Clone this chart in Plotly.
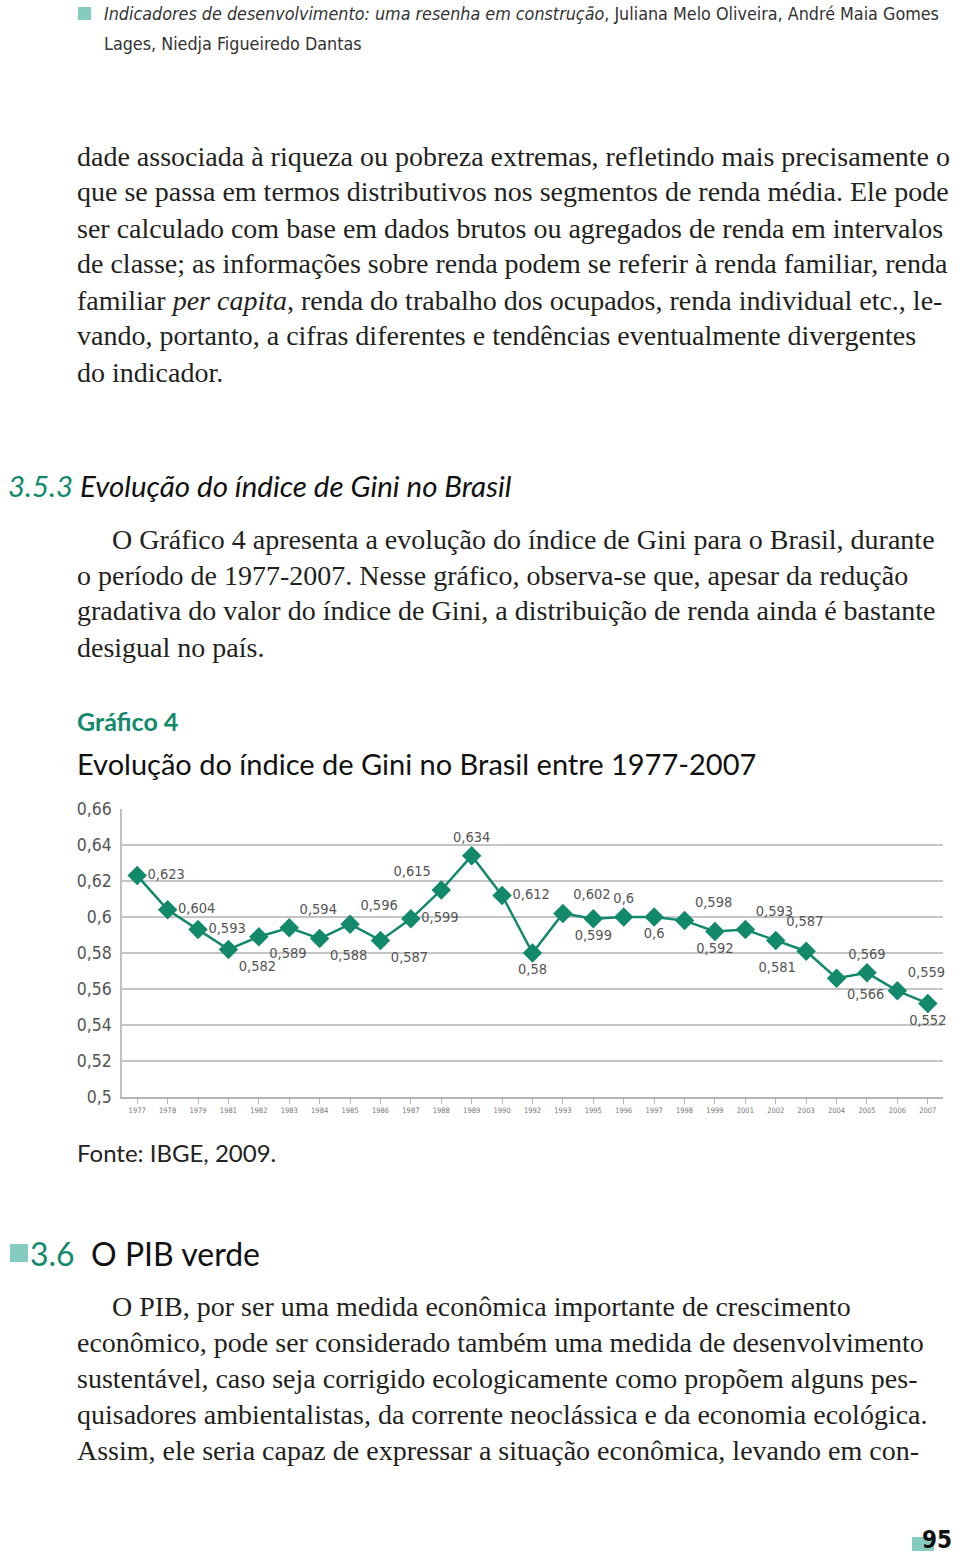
import plotly.graph_objects as go

W, H = 960, 1558

years = ["1977", "1978", "1979", "1981", "1982", "1983", "1984", "1985", "1986",
         "1987", "1988", "1989", "1990", "1992", "1993", "1995", "1996", "1997",
         "1998", "1999", "2001", "2002", "2003", "2004", "2005", "2006", "2007"]
gini = [0.623, 0.604, 0.593, 0.582, 0.589, 0.594, 0.588, 0.596, 0.587,
        0.599, 0.615, 0.634, 0.612, 0.58, 0.602, 0.599, 0.6, 0.6,
        0.598, 0.592, 0.593, 0.587, 0.581, 0.566, 0.569, 0.559, 0.552]
y_ticks = [0.5, 0.52, 0.54, 0.56, 0.58, 0.6, 0.62, 0.64, 0.66]
y_tick_labels = ["0,5", "0,52", "0,54", "0,56", "0,58", "0,6", "0,62", "0,64", "0,66"]

label_pos = ["middle right", "middle right", "middle right", "bottom right", "bottom right",
             "top right", "bottom right", "top right", "bottom right", "middle right",
             "top left", "top center", "middle right", "bottom center", "top right",
             "bottom center", "top center", "bottom center", "top right", "bottom center",
             "top right", "top right", "bottom left", "bottom right", "top center",
             "top right", "bottom center"]

labels = [("%g" % v).replace(".", ",") for v in gini]

TEAL = "#13896c"
LIGHT = "#86cbbf"

def px(x):
    return x / W

def py(y):
    return 1 - y / H

fig = go.Figure()
fig.add_trace(go.Scatter(
    x=years, y=gini, mode="lines+markers+text",
    line=dict(color=TEAL, width=2.5),
    marker=dict(symbol="diamond", size=15, color=TEAL),
    text=labels, textposition=label_pos,
    textfont=dict(family="DejaVu Sans Condensed, DejaVu Sans", size=14.5, color="#555555"),
    cliponaxis=False, showlegend=False,
))

fig.update_layout(
    width=W, height=H, margin=dict(l=0, r=0, t=0, b=0, autoexpand=False),
    paper_bgcolor="white", plot_bgcolor="white",
    xaxis=dict(domain=[px(122), px(943)], type="category", range=[-0.5, len(years) - 0.5],
               showline=True, linecolor="#b5b5b5", linewidth=1.5,
               ticks="outside", ticklen=5, tickcolor="#b5b5b5",
               tickfont=dict(family="DejaVu Sans Condensed, DejaVu Sans", size=7.5, color="#777777"),
               tickangle=0, showgrid=False, automargin=False),
    yaxis=dict(domain=[py(1097), py(809)], range=[0.5, 0.66],
               tickvals=y_ticks, ticktext=y_tick_labels,
               showline=True, linecolor="#c0c0c0", linewidth=1.5,
               gridcolor="#c4c4c4", gridwidth=2, zeroline=False, automargin=False,
               tickfont=dict(family="DejaVu Sans Condensed, DejaVu Sans", size=17.5, color="#555555"),
               ticks="", ticklabelstandoff=5),
)

ann = []
def txt(x, y, s, size, family, color="#231f20", anchor="left"):
    ann.append(dict(x=px(x), y=py(y), xref="paper", yref="paper", text=s, showarrow=False,
                    xanchor=anchor, yanchor="middle",
                    font=dict(family=family, size=size, color=color)))

SERIF = "Liberation Serif, DejaVu Serif, serif"
SANS = "Lato, Open Sans, sans-serif"
NARROW = "Liberation Sans Narrow, DejaVu Sans Condensed, sans-serif"

# header
txt(102, 14, "<i>Indicadores de desenvolvimento: uma resenha em construção</i>, Juliana Melo Oliveira, André Maia Gomes",
    17.8, NARROW, "#333333")
txt(102, 43, "Lages, Niedja Figueiredo Dantas", 17.8, NARROW, "#333333")

body1 = [
    "dade associada à riqueza ou pobreza extremas, refletindo mais precisamente o",
    "que se passa em termos distributivos nos segmentos de renda média. Ele pode",
    "ser calculado com base em dados brutos ou agregados de renda em intervalos",
    "de classe; as informações sobre renda podem se referir à renda familiar, renda",
    "familiar <i>per capita</i>, renda do trabalho dos ocupados, renda individual etc., le-",
    "vando, portanto, a cifras diferentes e tendências eventualmente divergentes",
    "do indicador.",
]
for i, line in enumerate(body1):
    txt(75, 156 + 36 * i, line, 28, SERIF)

txt(6, 485, "<i><span style='color:%s'>3.5.3</span> Evolução do índice de Gini no Brasil</i>" % TEAL, 29.5, SANS, "#111111")

body2 = [
    (110, "O Gráfico 4 apresenta a evolução do índice de Gini para o Brasil, durante"),
    (75, "o período de 1977-2007. Nesse gráfico, observa-se que, apesar da redução"),
    (75, "gradativa do valor do índice de Gini, a distribuição de renda ainda é bastante"),
    (75, "desigual no país."),
]
for i, (x, line) in enumerate(body2):
    txt(x, 539 + 36 * i, line, 28, SERIF)

txt(75, 721, "<b>Gráfico 4</b>", 25, SANS, TEAL)
txt(75, 763, "Evolução do índice de Gini no Brasil entre 1977-2007", 29, SANS, "#111111")
txt(75, 1152, "Fonte: IBGE, 2009.", 24, SANS, "#222222")

txt(28, 1253, "<span style='color:%s'>3.6</span>  O PIB verde" % TEAL, 32, SANS, "#111111")

body3 = [
    (110, "O PIB, por ser uma medida econômica importante de crescimento"),
    (75, "econômico, pode ser considerado também uma medida de desenvolvimento"),
    (75, "sustentável, caso seja corrigido ecologicamente como propõem alguns pes-"),
    (75, "quisadores ambientalistas, da corrente neoclássica e da economia ecológica."),
    (75, "Assim, ele seria capaz de expressar a situação econômica, levando em con-"),
]
for i, (x, line) in enumerate(body3):
    txt(x, 1306 + 36 * i, line, 28, SERIF)

txt(954, 1540, "<b>95</b>", 24, NARROW, "#111111", anchor="right")

fig.update_layout(annotations=ann)

shapes = [
    dict(type="rect", xref="paper", yref="paper", x0=px(78), x1=px(91), y0=py(20), y1=py(7),
         fillcolor=LIGHT, line=dict(width=0)),
    dict(type="rect", xref="paper", yref="paper", x0=px(10), x1=px(28), y0=py(1262), y1=py(1244),
         fillcolor=LIGHT, line=dict(width=0)),
    dict(type="rect", xref="paper", yref="paper", x0=px(912), x1=px(934), y0=py(1551), y1=py(1537),
         fillcolor=LIGHT, line=dict(width=0)),
]
fig.update_layout(shapes=shapes)

fig.write_html("out.html", config={"displayModeBar": False},
               post_script="document.body.style.margin='0';document.body.style.overflow='hidden';")
